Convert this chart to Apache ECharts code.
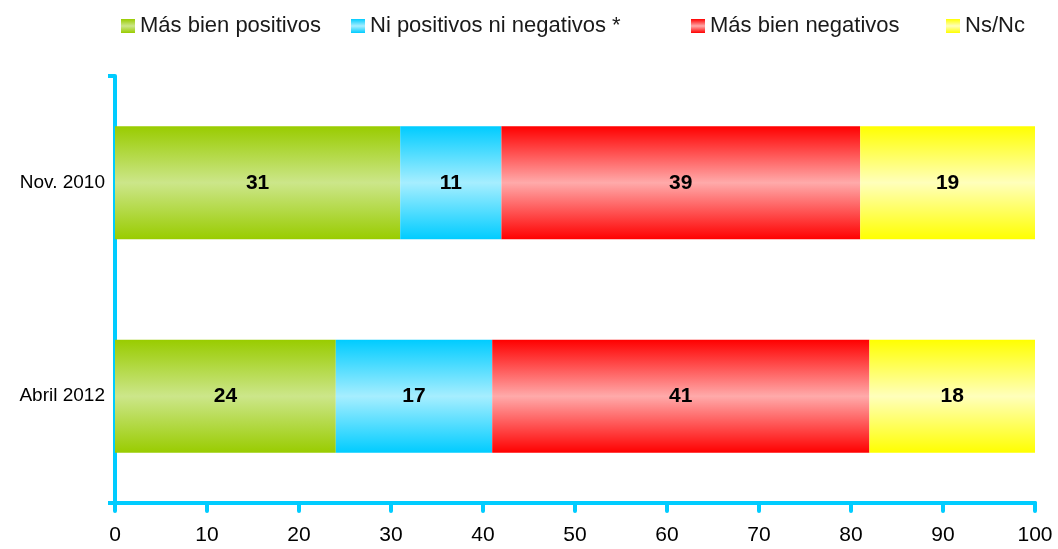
<!DOCTYPE html>
<html>
<head>
<meta charset="utf-8">
<script src="https://cdn.jsdelivr.net/npm/echarts@6/dist/echarts.min.js"></script>
<style>
  html, body { margin: 0; padding: 0; background: #fff; }
  #main { width: 1058px; height: 549px; }
</style>
</head>
<body>
<div id="main"></div>
<script>
// datos
var periodos = ['Nov. 2010', 'Abril 2012'];
var nombres = ['Más bien positivos', 'Ni positivos ni negativos *', 'Más bien negativos', 'Ns/Nc'];
var positivos = [31, 24];
var neutros = [11, 17];
var negativos = [39, 41];
var nsnc = [19, 18];
var xTicks = [0, 10, 20, 30, 40, 50, 60, 70, 80, 90, 100];

function grad(edge, mid) {
  return new echarts.graphic.LinearGradient(0, 0, 0, 1, [
    { offset: 0, color: edge },
    { offset: 0.5, color: mid },
    { offset: 1, color: edge }
  ]);
}

function serie(name, data, edge, mid) {
  return {
    name: name,
    type: 'bar',
    stack: 'total',
    barWidth: '53%',
    data: data,
    itemStyle: { color: grad(edge, mid) },
    label: {
      show: true,
      position: 'inside',
      color: '#000',
      fontWeight: 'bold',
      fontSize: 21,
      fontFamily: 'Liberation Sans'
    }
  };
}

function leyenda(name, left) {
  return {
    data: [name],
    left: left,
    top: 10,
    itemWidth: 14,
    itemHeight: 14,
    itemGap: 6,
    icon: 'rect',
    textStyle: { fontSize: 22, color: '#1a1a1a', fontFamily: 'Liberation Sans' }
  };
}

var myChart = echarts.init(document.getElementById('main'));
var option = {
  animation: false,
  textStyle: { fontFamily: 'Liberation Sans' },
  legend: [
    leyenda(nombres[0], 116),
    leyenda(nombres[1], 346),
    leyenda(nombres[2], 686),
    leyenda(nombres[3], 941)
  ],
  grid: { left: 115, right: 23, top: 76, bottom: 46 },
  xAxis: {
    type: 'value',
    min: 0,
    max: 100,
    interval: 10,
    splitLine: { show: false },
    axisLine: { show: true, lineStyle: { color: '#00CCFF', width: 4 } },
    axisTick: { show: true, length: 8, lineStyle: { color: '#00CCFF', width: 4, cap: 'round' } },
    axisLabel: {
      color: '#000', fontSize: 21, margin: 22,
      formatter: function (v) { return xTicks.indexOf(v) >= 0 ? String(v) : ''; }
    }
  },
  yAxis: {
    type: 'category',
    inverse: true,
    data: periodos,
    axisLine: { show: true, lineStyle: { color: '#00CCFF', width: 4 } },
    axisTick: {
      show: true, length: 7,
      interval: function (i) { return i === 0; },
      lineStyle: { color: '#00CCFF', width: 4 }
    },
    axisLabel: { color: '#000', fontSize: 19, margin: 10 }
  },
  series: [
    serie(nombres[0], positivos, '#99CC00', '#CCE68A'),
    serie(nombres[1], neutros, '#00CCFF', '#A6EEFF'),
    serie(nombres[2], negativos, '#FF0000', '#FFAAAA'),
    serie(nombres[3], nsnc, '#FFFF00', '#FFFFBB')
  ]
};
option && myChart.setOption(option);
</script>
</body>
</html>
